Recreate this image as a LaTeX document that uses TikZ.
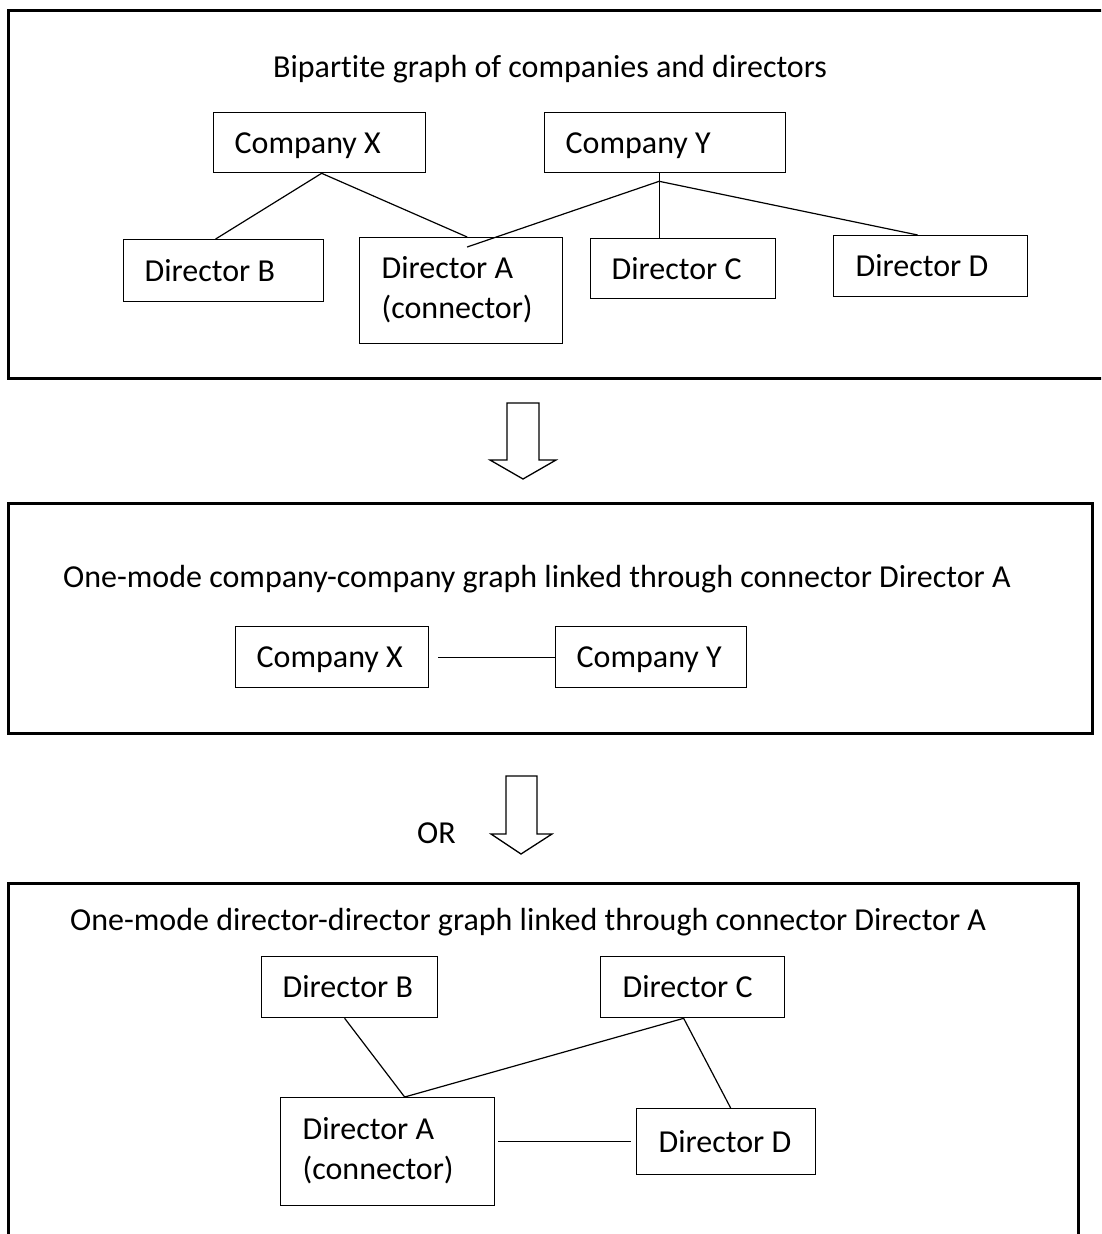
\documentclass[tikz,border=0pt]{standalone}
\usepackage{fontspec}
\setmainfont{Carlito}[Ligatures=NoCommon]
\usetikzlibrary{calc}
\begin{document}
\begin{tikzpicture}[x=1pt,y=-1pt,
  every node/.style={font=\fontsize{32pt}{39.5pt}\selectfont},
  nbox/.style={draw, line width=1.3pt, inner sep=0pt, anchor=north west,
    align=flush left, text height=23pt, text depth=2pt},
  twoline/.style={text depth=47pt},
  title/.style={anchor=base west, inner sep=0pt},
  frame/.style={draw, line width=3pt},
  link/.style={draw, line width=1.2pt},
  hollow/.style={draw, line width=1.3pt, line join=miter}]
\useasboundingbox (0,0) rectangle (1101,1234);
\clip (0,0) rectangle (1101,1234);
\fill[white] (0,0) rectangle (1101,1234);

% outer frames
\draw[frame] (1110,10) -- (8,10) -- (8,378) -- (1110,378);
\draw[frame] (8,503) rectangle (1092,733);
\draw[frame] (8,1245) -- (8,883) -- (1078,883) -- (1078,1245);

% bipartite graph
\node[title] (t1) at (273,77) {Bipartite graph of companies and directors};
\node[nbox, minimum width=212pt, minimum height=60pt, text width=170pt] (cx) at (213,112) {Company~X};
\node[nbox, minimum width=241pt, minimum height=60pt, text width=199pt] (cy) at (544,112) {Company~Y};
\node[nbox, minimum width=200pt, minimum height=62pt, text width=158pt] (dB) at (123,239) {Director~B};
\node[nbox, twoline, minimum width=203pt, minimum height=106pt, text width=159pt] (dA) at (359,237) {Director~A\\(connector)};
\node[nbox, minimum width=185pt, minimum height=60pt, text width=143pt] (dC) at (590,238) {Director~C};
\node[nbox, minimum width=194pt, minimum height=61pt, text width=150pt] (dD) at (833,235) {Director~D};

\coordinate (jx) at ([xshift=2pt]cx.south);
\coordinate (jy) at ([shift={(-6,8)}]cy.south);
\draw[link] ([xshift=-8pt]dB.north) -- (jx) -- ([xshift=6pt]dA.north);
\draw[link] ([xshift=-6pt]cy.south) -- (jy);
\draw[link] ([shift={(6,10)}]dA.north) -- (jy) -- ([xshift=-13pt]dD.north);
\draw[link] (jy) -- (jy |- dC.north);

% first hollow arrow
\draw[hollow] (507,403) -- (539,403) -- (539,460) -- (556,460) -- (523,479)
  -- (490,460) -- (507,460) -- cycle;

% company-company graph
\node[title] (t2) at (63,587) {One-mode company-company graph linked through connector Director A};
\node[nbox, minimum width=193pt, minimum height=61pt, text width=151pt] (cx2) at (235,626) {Company~X};
\node[nbox, minimum width=191pt, minimum height=61pt, text width=149pt] (cy2) at (555,626) {Company~Y};
\draw[link] ([xshift=9pt]cx2.east) -- (cy2.west);

% second hollow arrow
\node[title] (or) at (417,843) {OR};
\draw[hollow] (506,776) -- (537,776) -- (537,834) -- (552,834) -- (521,854)
  -- (491,834) -- (506,834) -- cycle;

% director-director graph
\node[title] (t3) at (70,930) {One-mode director-director graph linked through connector Director A};
\node[nbox, minimum width=176pt, minimum height=61pt, text width=134pt] (dB3) at (261,956) {Director~B};
\node[nbox, minimum width=184pt, minimum height=61pt, text width=140pt] (dC3) at (600,956) {Director~C};
\node[nbox, twoline, minimum width=214pt, minimum height=108pt, text width=170pt] (dA3) at (280,1097) {Director~A\\(connector)};
\node[nbox, minimum width=179pt, minimum height=66pt, text width=135pt] (dD3) at (636,1108) {Director~D};

\coordinate (aTop) at ([xshift=17pt]dA3.north);
\coordinate (cBot) at ([xshift=-9pt]dC3.south);
\draw[link] ([xshift=-5pt]dB3.south) -- (aTop) -- (cBot) -- ([xshift=4.5pt]dD3.north);
\draw[link] ($(dA3.east |- dD3.west)+(3,0)$) -- ([xshift=-5pt]dD3.west);
\end{tikzpicture}
\end{document}
